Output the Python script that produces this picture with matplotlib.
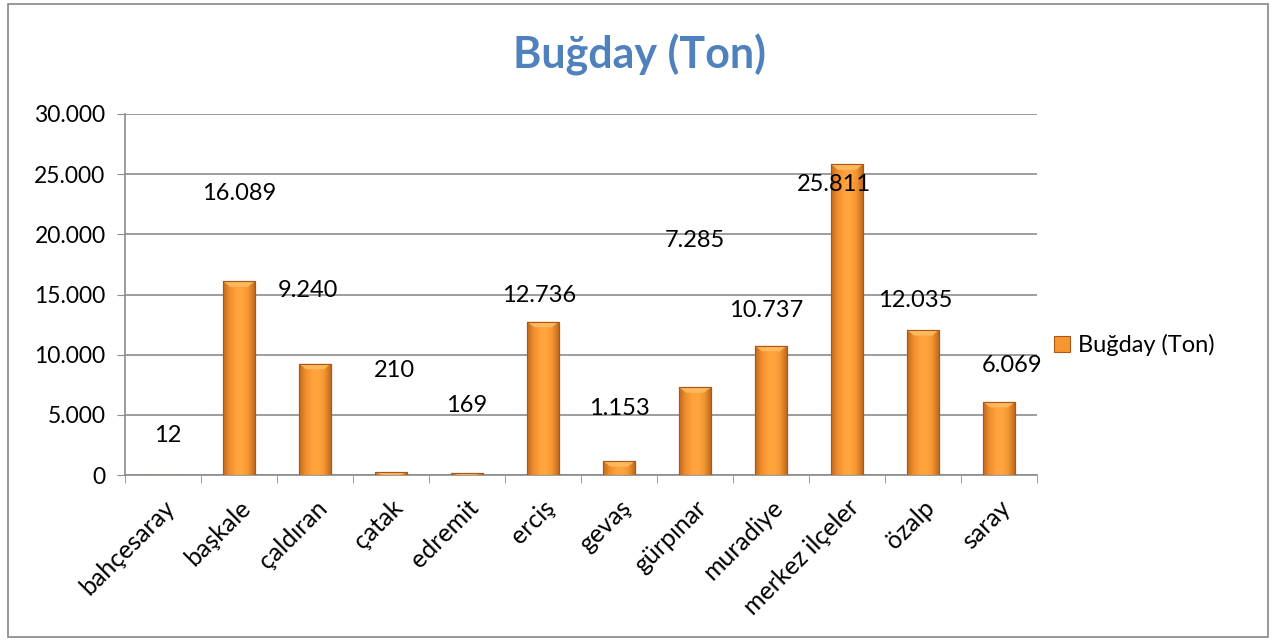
import numpy as np
import matplotlib.pyplot as plt
from matplotlib.colors import LinearSegmentedColormap
from matplotlib.patches import Rectangle, Polygon
from matplotlib.ticker import FuncFormatter, FixedLocator

plt.rcParams['font.family'] = ['Lato', 'DejaVu Sans']

# veriler
ilceler = ['bahçesaray', 'başkale', 'çaldıran', 'çatak', 'edremit', 'erciş',
           'gevaş', 'gürpınar', 'muradiye', 'merkez ilçeler', 'özalp', 'saray']
bugday = [12, 16089, 9240, 210, 169, 12736, 1153, 7285, 10737, 25811, 12035, 6069]
seri_adi = 'Buğday (Ton)'

# etiketlerin yerleri (Excel'de elle kaydırılmış gibi)
etiket_y = [3300, 23400, 15300, 8700, 5800, 14950, 5550, 19500, 13700, 24100, 14500, 9100]
etiket_dx = [5, 0, -7, 3, 0, -4, 0, 0, -5, -13, -8, 13]


def tr_format(v, pos=None):
    return f'{int(round(v)):,}'.replace(',', '.')


fig = plt.figure(figsize=(12.76, 6.4), dpi=100)
fig.patches.append(Rectangle((8 / 1276, 3 / 640), 1260 / 1276, 633 / 640,
                             transform=fig.transFigure, fill=False,
                             edgecolor='#868686', linewidth=1.2))
ax = fig.add_axes([125 / 1276, 1 - 475 / 640, 912 / 1276, 361 / 640])

x = np.arange(len(ilceler))
w = 0.42
bars = ax.bar(x, bugday, width=w, color='#F7962E', edgecolor='#A8581A',
              linewidth=0.8, zorder=3)

# yatay gradyan ile kabartma görünümü
cmap = LinearSegmentedColormap.from_list(
    'tur', ['#C06A1E', '#F08C2C', '#FFA13C', '#FFA640', '#F49530', '#C06A1E'])
grad = np.linspace(0, 1, 100).reshape(1, -1)
for b in bars:
    bx, by = b.get_x(), b.get_y()
    bw, bh = b.get_width(), b.get_height()
    im = ax.imshow(grad, cmap=cmap, aspect='auto', extent=(bx, bx + bw, by, by + bh),
                   zorder=3.5)
    im.set_clip_path(b)
    # üst pah
    cap = min(bh, 450)
    tri = Polygon([(bx, by + bh), (bx + bw, by + bh), (bx + bw * 0.78, by + bh - cap),
                   (bx + bw * 0.22, by + bh - cap)], closed=True,
                  facecolor='#FFC066', edgecolor='none', alpha=0.8, zorder=3.6)
    ax.add_patch(tri)
    ax.add_patch(Rectangle((bx, by), bw, bh, fill=False, edgecolor='#A8581A',
                           linewidth=0.8, zorder=3.7))

ax.set_xlim(-0.5, len(ilceler) - 0.5)
ax.set_ylim(0, 30000)
ax.set_yticks(np.arange(0, 30001, 5000))
ax.yaxis.set_major_formatter(FuncFormatter(tr_format))
ax.yaxis.grid(True, color='#8C8C8C', linewidth=1.2, zorder=0)
ax.set_axisbelow(True)

ax.set_xticks(x)
ax.set_xticklabels(ilceler, rotation=45, ha='right', rotation_mode='anchor')
ax.xaxis.set_minor_locator(FixedLocator(np.arange(-0.5, len(ilceler), 1)))
ax.tick_params(axis='x', which='major', length=0, pad=15, labelsize=18)
ax.tick_params(axis='x', which='minor', length=6, color='#8C8C8C', direction='out')
ax.tick_params(axis='y', length=6, color='#8C8C8C', labelsize=16.5, pad=8)

for s in ['top', 'right']:
    ax.spines[s].set_visible(False)
for s in ['left', 'bottom']:
    ax.spines[s].set_color('#8C8C8C')
    ax.spines[s].set_linewidth(1.2)

for i, v in enumerate(bugday):
    ax.annotate(tr_format(v), (x[i], etiket_y[i]), xytext=(etiket_dx[i], 0),
                textcoords='offset pixels', ha='center', va='center', fontsize=17,
                zorder=5)

fig.text(640 / 1276, 1 - 55 / 640, seri_adi, ha='center', va='center',
         fontsize=31, fontweight='bold', color='#4F81BD')

leg = ax.legend([bars[0]], [seri_adi], loc='center left', bbox_to_anchor=(0.995, 0.36),
                frameon=False, fontsize=17, handlelength=0.7, handleheight=0.7,
                handletextpad=0.35)

fig.savefig('out.png', dpi=100)
